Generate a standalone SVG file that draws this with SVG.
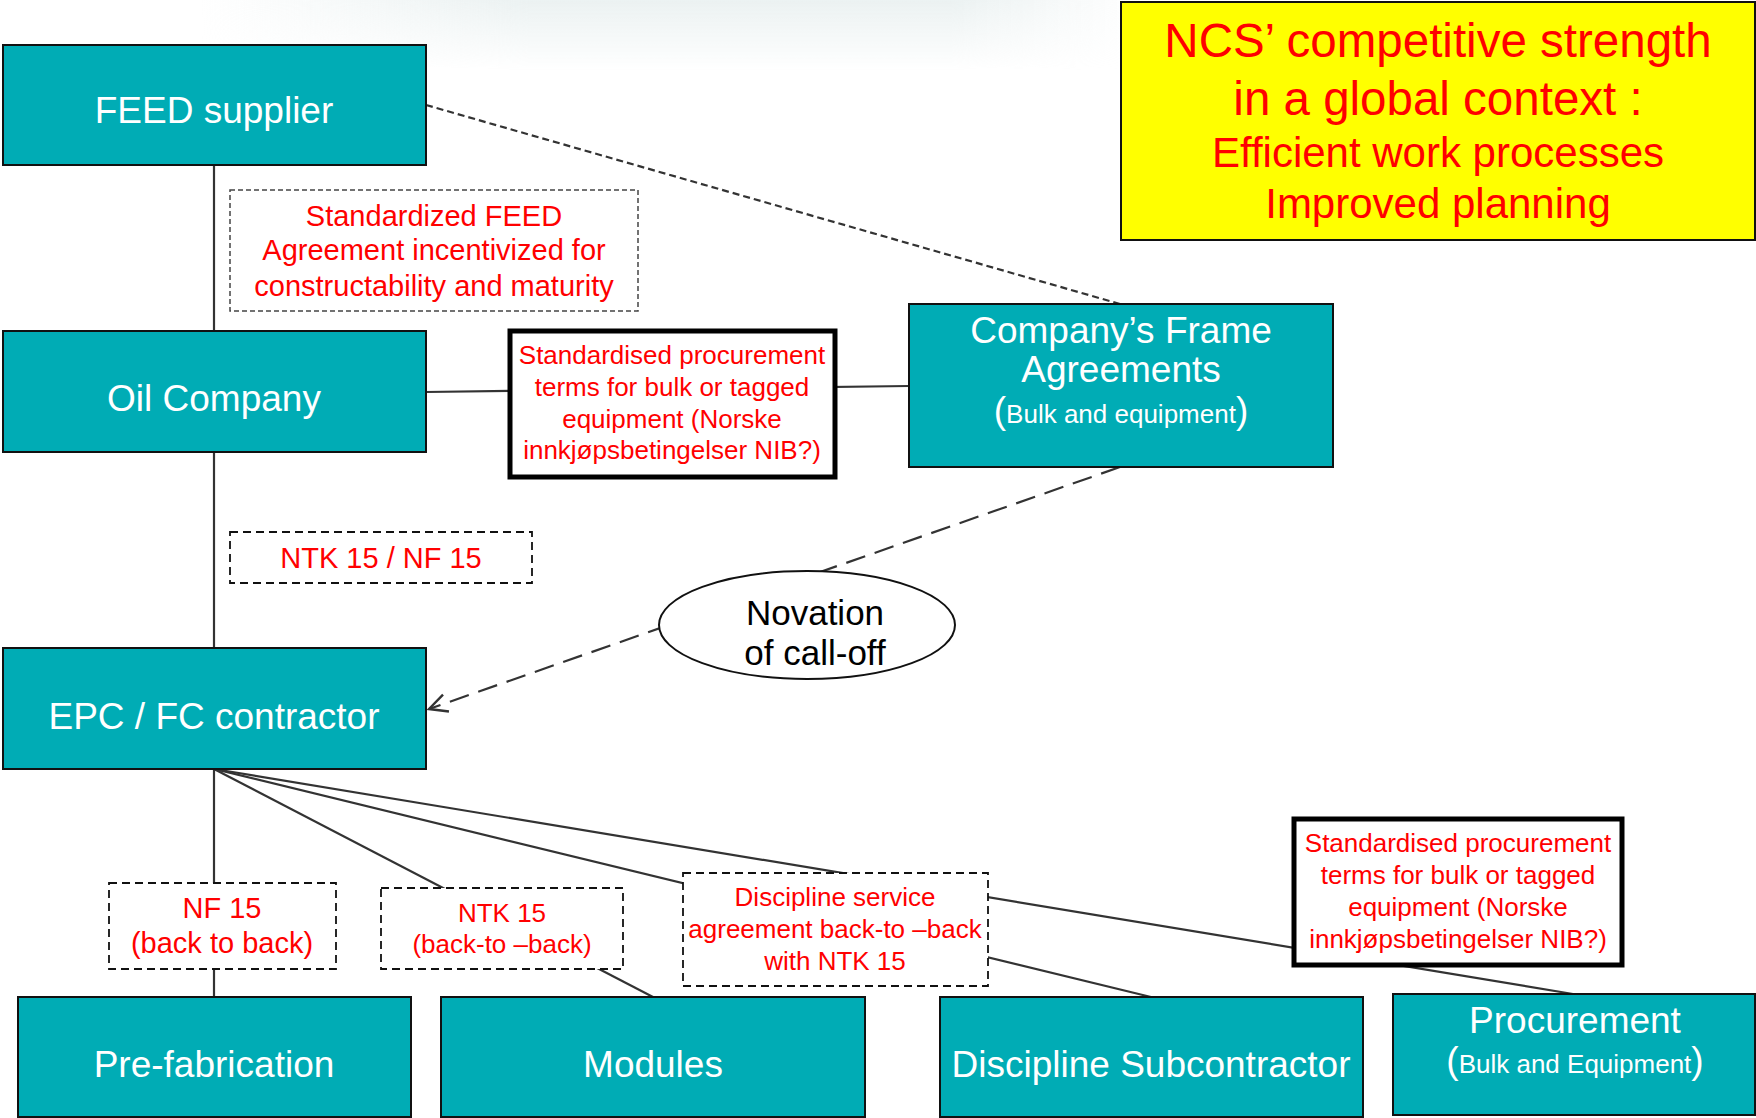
<svg xmlns="http://www.w3.org/2000/svg" width="1756" height="1118" viewBox="0 0 1756 1118">
<style>
text{font-family:"Liberation Sans",Arial,sans-serif;text-anchor:middle}
.node{fill:#00ACB5;stroke:#111;stroke-width:2}
.nt{fill:#fff;font-size:37px}
.sub{fill:#fff;font-size:26px}
.red{fill:#f00}
.lbl{fill:#fff;stroke:#111;stroke-width:1.8;stroke-dasharray:8 5}
.thick{fill:#fff;stroke:#000;stroke-width:5}
.ln{stroke:#333;stroke-width:2.2;fill:none}
</style>
<defs>
<linearGradient id="fadeH" x1="0" y1="0" x2="1" y2="0">
<stop offset="0" stop-color="#e6eeee" stop-opacity="0"/>
<stop offset="0.35" stop-color="#e6eeee" stop-opacity="0.8"/>
<stop offset="0.8" stop-color="#e6eeee" stop-opacity="0.8"/>
<stop offset="1" stop-color="#e6eeee" stop-opacity="0"/>
</linearGradient>
<linearGradient id="fadeV" x1="0" y1="0" x2="0" y2="1">
<stop offset="0" stop-color="#fff" stop-opacity="1"/>
<stop offset="1" stop-color="#fff" stop-opacity="0"/>
</linearGradient>
<mask id="vmask">
<rect x="0" y="0" width="1756" height="70" fill="url(#fadeV)"/>
</mask>
<marker id="arr" viewBox="0 0 22 22" refX="20" refY="11" markerWidth="22" markerHeight="22" markerUnits="userSpaceOnUse" orient="auto">
<path d="M2,2 L20,11 L2,20" fill="none" stroke="#333" stroke-width="2.4"/>
</marker>
</defs>
<rect x="200" y="0" width="940" height="70" fill="url(#fadeH)" mask="url(#vmask)"/>
<g id="connectors">
<line class="ln" x1="214" y1="165" x2="214" y2="331"/>
<line class="ln" x1="214" y1="452" x2="214" y2="648"/>
<line class="ln" x1="426" y1="392" x2="909" y2="386"/>
<line class="ln" x1="426" y1="105" x2="1120" y2="304" stroke-dasharray="7 4"/>
<line class="ln" x1="1120" y1="467" x2="429" y2="709" stroke-dasharray="20 10" marker-end="url(#arr)"/>
<line class="ln" x1="214" y1="769" x2="214" y2="997"/>
<line class="ln" x1="214" y1="769" x2="653" y2="997"/>
<line class="ln" x1="214" y1="769" x2="1151" y2="997"/>
<line class="ln" x1="214" y1="769" x2="1573" y2="994"/>
</g>
<g id="feed-supplier">
<rect class="node" x="3" y="45" width="423" height="120"/>
<text class="nt" x="214" y="123">FEED supplier</text>
</g>
<g id="oil-company">
<rect class="node" x="3" y="331" width="423" height="121"/>
<text class="nt" x="214" y="411">Oil Company</text>
</g>
<g id="epc">
<rect class="node" x="3" y="648" width="423" height="121"/>
<text class="nt" x="214" y="729">EPC / FC contractor</text>
</g>
<g id="frame-agreements">
<rect class="node" x="909" y="304" width="424" height="163"/>
<text class="nt" x="1121" y="343">Company’s Frame</text>
<text class="nt" x="1121" y="382">Agreements</text>
<text x="1121" y="423"><tspan class="nt">(</tspan><tspan class="sub">Bulk and equipment</tspan><tspan class="nt">)</tspan></text>
</g>
<g id="ncs-box">
<rect x="1121" y="2" width="634" height="238" fill="#ffff00" stroke="#111" stroke-width="2"/>
<text class="red" x="1438" y="57" font-size="47.5">NCS’ competitive strength</text>
<text class="red" x="1438" y="115" font-size="47.5">in a global context :</text>
<text class="red" x="1438" y="167" font-size="42">Efficient work processes</text>
<text class="red" x="1438" y="218" font-size="42">Improved planning</text>
</g>
<g id="feed-agreement">
<rect x="230" y="190" width="408" height="121" fill="#fff" stroke="#444" stroke-width="1.5" stroke-dasharray="5 3"/>
<text class="red" x="434" y="226" font-size="29">Standardized FEED</text>
<text class="red" x="434" y="260" font-size="29">Agreement incentivized for</text>
<text class="red" x="434" y="296" font-size="29">constructability and maturity</text>
</g>
<g id="nib-1">
<rect class="thick" x="510" y="331" width="325" height="146"/>
<text class="red" x="672" y="364" font-size="26">Standardised procurement</text>
<text class="red" x="672" y="396" font-size="26">terms for bulk or tagged</text>
<text class="red" x="672" y="428" font-size="26">equipment (Norske</text>
<text class="red" x="672" y="459" font-size="26">innkjøpsbetingelser NIB?)</text>
</g>
<g id="ntk-nf">
<rect class="lbl" x="230" y="532" width="302" height="51"/>
<text class="red" x="381" y="568" font-size="29">NTK 15 / NF 15</text>
</g>
<g id="novation">
<ellipse cx="807" cy="625" rx="148" ry="54" fill="#fff" stroke="#111" stroke-width="2"/>
<text x="815" y="625" font-size="35" fill="#000">Novation</text>
<text x="815" y="665" font-size="35" fill="#000">of call-off</text>
</g>
<g id="nf15">
<rect class="lbl" x="109" y="883" width="227" height="86"/>
<text class="red" x="222" y="918" font-size="29">NF 15</text>
<text class="red" x="222" y="953" font-size="29">(back to back)</text>
</g>
<g id="ntk15">
<rect class="lbl" x="381" y="888" width="242" height="81"/>
<text class="red" x="502" y="922" font-size="26">NTK 15</text>
<text class="red" x="502" y="953" font-size="26">(back-to –back)</text>
</g>
<g id="discipline-service">
<rect class="lbl" x="683" y="873" width="305" height="113"/>
<text class="red" x="835" y="906" font-size="26">Discipline service</text>
<text class="red" x="835" y="938" font-size="26">agreement back-to –back</text>
<text class="red" x="835" y="970" font-size="26">with NTK 15</text>
</g>
<g id="nib-2">
<rect class="thick" x="1294" y="819" width="328" height="146"/>
<text class="red" x="1458" y="852" font-size="26">Standardised procurement</text>
<text class="red" x="1458" y="884" font-size="26">terms for bulk or tagged</text>
<text class="red" x="1458" y="916" font-size="26">equipment (Norske</text>
<text class="red" x="1458" y="948" font-size="26">innkjøpsbetingelser NIB?)</text>
</g>
<g id="prefabrication">
<rect class="node" x="18" y="997" width="393" height="120"/>
<text class="nt" x="214" y="1077">Pre-fabrication</text>
</g>
<g id="modules">
<rect class="node" x="441" y="997" width="424" height="120"/>
<text class="nt" x="653" y="1077">Modules</text>
</g>
<g id="discipline-subcontractor">
<rect class="node" x="940" y="997" width="423" height="120"/>
<text class="nt" x="1151" y="1077">Discipline Subcontractor</text>
</g>
<g id="procurement">
<rect class="node" x="1393" y="994" width="362" height="121"/>
<text class="nt" x="1575" y="1033">Procurement</text>
<text x="1575" y="1073"><tspan class="nt">(</tspan><tspan class="sub">Bulk and Equipment</tspan><tspan class="nt">)</tspan></text>
</g>
</svg>
